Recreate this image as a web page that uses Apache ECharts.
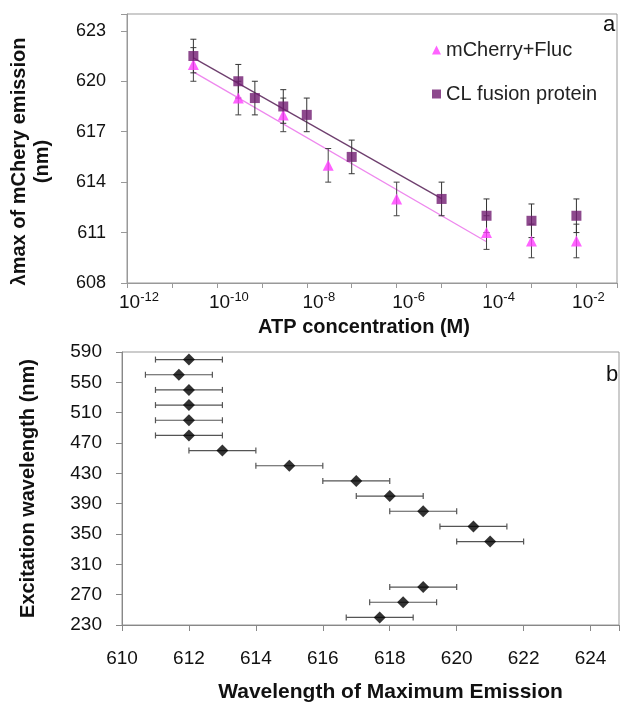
<!DOCTYPE html>
<html>
<head>
<meta charset="utf-8">
<script src="https://cdn.jsdelivr.net/npm/echarts@6/dist/echarts.min.js"></script>
<style>
  html, body { margin: 0; padding: 0; background: #fff; }
  #main { width: 622px; height: 704px; }
</style>
</head>
<body>
<div id="main"></div>
<script>
// panel a: ATP concentration (M) vs lambda max (nm)
const atpFluc = [3e-11, 3e-10, 3e-9, 3e-8, 1e-6, 1e-4, 1e-3, 1e-2];
const lamFluc = [621, 619, 618, 615, 613, 611, 610.5, 610.5];
const errFluc = [1, 1, 1, 1, 1, 1, 1, 1];
const atpCL = [3e-11, 3e-10, 7e-10, 3e-9, 1e-8, 1e-7, 1e-5, 1e-4, 1e-3, 1e-2];
const lamCL = [621.5, 620, 619, 618.5, 618, 615.5, 613, 612, 611.7, 612];
const errCL = [1, 1, 1, 1, 1, 1, 1, 1, 1, 1];
// fitted lines (end points)
const fitFluc = [[3e-11, 620.56], [1e-4, 610.45]];
const fitCL = [[3e-11, 621.39], [1e-5, 613.02]];

// panel b: excitation wavelength vs wavelength of max emission
const excitation = [580, 560, 540, 520, 500, 480, 460, 440, 420, 400, 380, 360, 340, 280, 260, 240];
const emission = [612, 611.7, 612, 612, 612, 612, 613, 615, 617, 618, 619, 620.5, 621, 619, 618.4, 617.7];
const emissionErr = [1, 1, 1, 1, 1, 1, 1, 1, 1, 1, 1, 1, 1, 1, 1, 1];

const FONT = 'Liberation Sans, Arial, sans-serif';

function vErrBar(color) {
    return function (params, api) {
        const x = api.value(0);
        const lo = api.coord([x, api.value(1)]);
        const hi = api.coord([x, api.value(2)]);
        const st = { stroke: color, lineWidth: 1 };
        return { type: 'group', children: [
            { type: 'line', shape: { x1: lo[0], y1: lo[1], x2: hi[0], y2: hi[1] }, style: st },
            { type: 'line', shape: { x1: lo[0] - 3, y1: lo[1], x2: lo[0] + 3, y2: lo[1] }, style: st },
            { type: 'line', shape: { x1: hi[0] - 3, y1: hi[1], x2: hi[0] + 3, y2: hi[1] }, style: st }
        ]};
    };
}

function hErrBar(params, api) {
    const y = api.value(0);
    const lo = api.coord([api.value(1), y]);
    const hi = api.coord([api.value(2), y]);
    const st = { stroke: '#555', lineWidth: 1.2 };
    return { type: 'group', children: [
        { type: 'line', shape: { x1: lo[0], y1: lo[1], x2: hi[0], y2: hi[1] }, style: st },
        { type: 'line', shape: { x1: lo[0], y1: lo[1] - 3, x2: lo[0], y2: lo[1] + 3 }, style: st },
        { type: 'line', shape: { x1: hi[0], y1: hi[1] - 3, x2: hi[0], y2: hi[1] + 3 }, style: st }
    ]};
}

let myChart = echarts.init(document.getElementById('main'));
let option = {
    backgroundColor: '#fff',
    textStyle: { fontFamily: FONT },
    grid: [
        { left: 123, top: 14, width: 494, height: 269, show: true, borderColor: '#999', borderWidth: 1 },
        { left: 122, top: 352, width: 500, height: 276, show: true, borderColor: '#999', borderWidth: 1 }
    ],
    legend: {
        data: ['mCherry+Fluc', 'CL fusion protein'],
        orient: 'vertical',
        left: 427,
        top: 35,
        itemWidth: 9,
        itemHeight: 9,
        itemGap: 24,
        textStyle: { fontSize: 20, color: '#222', fontFamily: FONT }
    },
    xAxis: [
        {
            type: 'log', gridIndex: 0, position: 'bottom',
            min: 1e-12, max: 0.08,
            axisLine: { lineStyle: { color: '#999' } },
            axisTick: { show: false }, axisLabel: { show: false },
            splitLine: { show: false }, minorTick: { show: false }
        },
        {
            // tick/label overlay for the log axis (exponents)
            type: 'value', gridIndex: 0, position: 'bottom',
            min: -12, max: -1.097, interval: 1,
            axisLine: { show: false },
            axisTick: { show: true, length: 5, lineStyle: { color: '#999' } },
            splitLine: { show: false },
            axisLabel: {
                margin: 8,
                formatter: function (v) {
                    const r = Math.round(v);
                    if (Math.abs(v - r) > 1e-6 || r % 2 !== 0) return '';
                    return '{p|}{b|10}{s|' + r + '}';
                },
                rich: {
                    p: { width: 24 },
                    b: { fontSize: 19, color: '#111', lineHeight: 24, fontFamily: FONT },
                    s: { fontSize: 13, color: '#111', verticalAlign: 'top', fontFamily: FONT }
                }
            },
            name: 'ATP concentration (M)',
            nameLocation: 'middle', nameGap: 34,
            nameTextStyle: { fontSize: 20, fontWeight: 'bold', color: '#111', padding: [0, 16, 0, 0] }
        },
        {
            type: 'value', gridIndex: 1,
            min: 610, max: 624.85, interval: 2,
            axisLine: { lineStyle: { color: '#888' } },
            axisTick: { length: 6, lineStyle: { color: '#888' } },
            splitLine: { show: false },
            axisLabel: {
                fontSize: 19, color: '#111', margin: 24,
                formatter: function (v) { return Number.isInteger(v) ? v : ''; }
            },
            name: 'Wavelength of Maximum Emission',
            nameLocation: 'middle', nameGap: 57,
            nameTextStyle: { fontSize: 21, fontWeight: 'bold', color: '#111', padding: [0, 0, 0, 40] }
        }
    ],
    yAxis: [
        {
            type: 'value', gridIndex: 0,
            min: 608, max: 624, interval: 3,
            axisLine: { show: true, lineStyle: { color: '#999' } },
            axisTick: { show: true, length: 6, lineStyle: { color: '#999' } },
            splitLine: { show: false },
            axisLabel: {
                fontSize: 18, color: '#111', margin: 21,
                formatter: function (v) { return v === 624 ? '' : v; }
            },
            name: 'λmax of mChery emission\n(nm)',
            nameLocation: 'middle', nameGap: 73,
            nameTextStyle: { fontSize: 20, fontWeight: 'bold', color: '#111', lineHeight: 23, padding: [0, 26, 0, 0] }
        },
        {
            type: 'value', gridIndex: 1,
            min: 230, max: 590, interval: 40,
            axisLine: { show: true, lineStyle: { color: '#888' } },
            axisTick: { show: true, length: 6, lineStyle: { color: '#888' } },
            splitLine: { show: false },
            axisLabel: { fontSize: 19, color: '#111', margin: 20 },
            name: 'Excitation wavelength (nm)',
            nameLocation: 'middle', nameGap: 84,
            nameTextStyle: { fontSize: 20, fontWeight: 'bold', color: '#111' }
        }
    ],
    graphic: [
        { type: 'text', left: 603, top: 14, style: { text: 'a', fontSize: 22, fill: '#111', fontFamily: FONT } },
        { type: 'text', left: 606, top: 364, style: { text: 'b', fontSize: 22, fill: '#111', fontFamily: FONT } }
    ],
    series: [
        {
            name: 'fitFluc', type: 'line', xAxisIndex: 0, yAxisIndex: 0,
            data: fitFluc, symbol: 'none', silent: true,
            lineStyle: { color: '#EE88EE', width: 1.3 }, z: 2
        },
        {
            name: 'fitCL', type: 'line', xAxisIndex: 0, yAxisIndex: 0,
            data: fitCL, symbol: 'none', silent: true,
            lineStyle: { color: '#6E3F6E', width: 1.3 }, z: 2
        },
        {
            name: 'errFluc', type: 'custom', xAxisIndex: 0, yAxisIndex: 0,
            renderItem: vErrBar('#444'),
            encode: { x: 0, y: [1, 2] },
            data: atpFluc.map((x, i) => [x, lamFluc[i] - errFluc[i], lamFluc[i] + errFluc[i]]),
            z: 3
        },
        {
            name: 'errCL', type: 'custom', xAxisIndex: 0, yAxisIndex: 0,
            renderItem: vErrBar('#333'),
            encode: { x: 0, y: [1, 2] },
            data: atpCL.map((x, i) => [x, lamCL[i] - errCL[i], lamCL[i] + errCL[i]]),
            z: 3
        },
        {
            name: 'mCherry+Fluc', type: 'scatter', xAxisIndex: 0, yAxisIndex: 0,
            symbol: 'triangle', symbolSize: 11,
            itemStyle: { color: '#FF3CFF' },
            data: atpFluc.map((x, i) => [x, lamFluc[i]]),
            z: 5
        },
        {
            name: 'CL fusion protein', type: 'scatter', xAxisIndex: 0, yAxisIndex: 0,
            symbol: 'rect', symbolSize: 10,
            itemStyle: { color: '#701C70' },
            data: atpCL.map((x, i) => [x, lamCL[i]]),
            z: 6
        },
        {
            name: 'errEmission', type: 'custom', xAxisIndex: 2, yAxisIndex: 1,
            renderItem: hErrBar,
            encode: { y: 0, x: [1, 2] },
            data: excitation.map((y, i) => [y, emission[i] - emissionErr[i], emission[i] + emissionErr[i]]),
            z: 3
        },
        {
            name: 'emission', type: 'scatter', xAxisIndex: 2, yAxisIndex: 1,
            symbol: 'diamond', symbolSize: 12,
            itemStyle: { color: '#000' },
            data: excitation.map((y, i) => [emission[i], y]),
            z: 5
        }
    ]
};
myChart.setOption(option);
</script>
</body>
</html>
